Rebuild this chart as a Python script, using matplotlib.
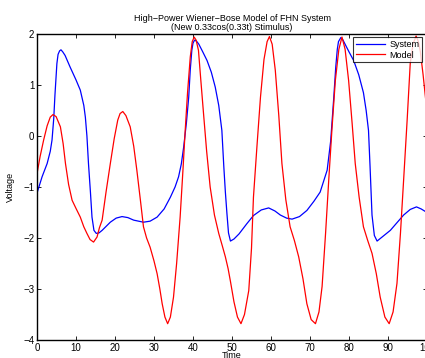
import matplotlib
matplotlib.use("Agg")
import matplotlib.pyplot as plt

# System response
sys_t = [0, 1.3, 2.6, 3.4, 3.85, 4.3, 4.6, 5.1, 5.4, 5.8, 6.15, 6.6, 7.2, 8.5, 10.0, 11.1, 12.0,
         12.4, 12.8, 13.2, 13.7, 14.1, 14.6, 15.2, 15.9, 16.7, 18.8, 20.3, 21.8, 23.3, 24.8,
         27.3, 29.0, 30.8, 32.6, 34.2, 35.4, 36.3, 37.0, 37.6, 38.3, 38.9, 39.3, 39.7, 40.0,
         40.4, 40.9, 41.5, 42.5, 43.6, 44.7, 45.7, 46.6, 47.4, 47.9, 48.3, 48.7, 49.1, 49.6,
         50.5, 51.8, 53.8, 55.5, 57.5, 59.4, 61.0, 62.4, 64.0, 65.4, 67.3, 69.2, 71.0, 72.6,
         74.4, 75.3, 76.1, 76.6, 77.0, 77.3, 77.9, 78.4, 79.0, 80.0, 81.2, 82.5, 83.7, 84.4,
         85.0, 85.4, 85.9, 86.5, 87.2, 88.5, 90.6, 92.3, 94.0, 95.7, 97.3, 98.5, 100]
sys_v = [-1.12, -0.8, -0.54, -0.3, -0.08, 0.35, 0.8, 1.42, 1.6, 1.67, 1.69, 1.65, 1.58, 1.35, 1.1, 0.9, 0.6,
         0.37, 0.0, -0.54, -1.1, -1.59, -1.85, -1.91, -1.9, -1.85, -1.69, -1.61, -1.58, -1.6, -1.65,
         -1.69, -1.67, -1.59, -1.43, -1.2, -1.0, -0.8, -0.55, -0.22, 0.25, 0.76, 1.3, 1.68, 1.82,
         1.88, 1.86, 1.8, 1.65, 1.48, 1.25, 0.96, 0.6, 0.11, -0.6, -1.1, -1.52, -1.9, -2.06,
         -2.02, -1.92, -1.72, -1.56, -1.45, -1.41, -1.47, -1.55, -1.61, -1.63, -1.58, -1.46, -1.28, -1.1,
         -0.67, -0.1, 0.76, 1.35, 1.7, 1.85, 1.93, 1.89, 1.8, 1.65, 1.48, 1.2, 0.85, 0.5,
         0.11, -0.6, -1.55, -1.95, -2.06, -1.98, -1.85, -1.7, -1.55, -1.44, -1.39, -1.43, -1.5]

# Wiener-Bose model output
mod_t = [0, 0.8, 1.7, 2.6, 3.4, 4.1, 4.9, 6.0, 6.7, 7.3, 8.1, 9.0, 10.0, 11.1, 12.0, 12.8,
         13.6, 14.5, 15.4, 16.0, 16.7, 17.7, 18.8, 19.8, 20.7, 21.3, 22.0, 22.8, 23.9, 24.8,
         25.6, 26.5, 27.3, 28.1, 29.0, 30.0, 30.8, 31.5, 32.1, 32.8, 33.5, 34.2, 35.0, 35.8,
         36.7, 37.4, 38.0, 38.6, 39.3, 39.8, 40.3, 40.8, 41.4, 42.0, 42.7, 43.5, 44.4, 45.5,
         46.6, 47.5, 48.3, 49.0, 49.6, 50.5, 51.4, 52.3, 53.2, 54.3, 55.0, 55.5, 56.4, 57.3,
         58.2, 59.0, 59.6, 60.3, 61.1, 62.0, 62.8, 63.8, 64.9, 66.0, 67.1, 68.2, 69.2, 70.3,
         71.4, 72.3, 73.1, 74.0, 74.8, 75.6, 76.5, 77.4, 78.2, 79.0, 79.9, 80.8, 81.6, 82.6,
         83.7, 84.8, 85.9, 87.0, 88.0, 89.2, 90.3, 91.3, 92.3, 93.2, 94.0, 94.9, 95.7, 96.4,
         97.2, 97.8, 98.3, 99.0, 99.6, 100]
mod_v = [-0.74, -0.4, -0.08, 0.2, 0.37, 0.42, 0.38, 0.18, -0.15, -0.54, -0.95, -1.26, -1.42, -1.59, -1.78, -1.91,
         -2.03, -2.08, -1.98, -1.8, -1.65, -1.1, -0.54, -0.05, 0.31, 0.44, 0.48, 0.40, 0.18, -0.2,
         -0.67, -1.25, -1.78, -2.0, -2.18, -2.45, -2.7, -3.0, -3.29, -3.55, -3.68, -3.55, -3.16, -2.5,
         -1.59, -0.7, 0.11, 0.85, 1.55, 1.85, 1.94, 1.88, 1.68, 1.1, 0.44, -0.3, -1.0, -1.55,
         -1.91, -2.15, -2.37, -2.6, -2.85, -3.25, -3.55, -3.68, -3.5, -3.03, -2.2, -1.2, -0.2, 0.76,
         1.5, 1.85, 1.95, 1.8, 1.29, 0.4, -0.54, -1.25, -1.78, -2.05, -2.37, -2.8, -3.29, -3.6,
         -3.68, -3.45, -2.95, -1.9, -0.87, 0.1, 1.09, 1.7, 1.94, 1.7, 1.09, 0.25, -0.54, -1.2,
         -1.78, -2.05, -2.3, -2.7, -3.16, -3.55, -3.68, -3.45, -2.89, -1.9, -0.87, 0.3, 1.42, 1.8,
         1.96, 1.85, 1.65, 1.2, 0.76, 0.5]

plt.rcParams['font.family'] = ['Liberation Sans', 'DejaVu Sans']

fig = plt.figure(figsize=(4.25, 3.58), dpi=100)
ax = fig.add_axes([37 / 425, 1 - 340 / 358, 390 / 425, 306 / 358])

ax.plot(sys_t, sys_v, color='#0000ff', lw=0.9, label='System')
ax.plot(mod_t, mod_v, color='#ff0000', lw=0.9, label='Model')

ax.set_xlim(0, 100)
ax.set_ylim(-4, 2)
ax.set_xticks(range(0, 101, 10))
ax.set_yticks(range(-4, 3))
ax.set_yticklabels(['\u22124', '\u22123', '\u22122', '\u22121', '0', '1', '2'])
ax.tick_params(direction='in', length=3, width=0.6, labelsize=7, pad=2,
               top=True, right=True)
for s in ax.spines.values():
    s.set_linewidth(1.0)

ax.set_title('High\u2212Power Wiener\u2212Bose Model of FHN System\n(New 0.33cos(0.33t) Stimulus)',
             fontsize=6.5, pad=3, linespacing=1.0)
ax.set_xlabel('Time', fontsize=6.5, labelpad=-1)
ax.set_ylabel('Voltage', fontsize=6.5, labelpad=6)

leg = ax.legend(loc='upper right', bbox_to_anchor=(422 / 425, 1 - 37 / 358),
                bbox_transform=fig.transFigure, fontsize=6.5, frameon=True,
                fancybox=False, edgecolor='black', handlelength=3.2,
                borderpad=0.3, labelspacing=0.2, handletextpad=0.5, borderaxespad=0)
leg.get_frame().set_linewidth(0.8)

fig.savefig('out.png', dpi=100)
